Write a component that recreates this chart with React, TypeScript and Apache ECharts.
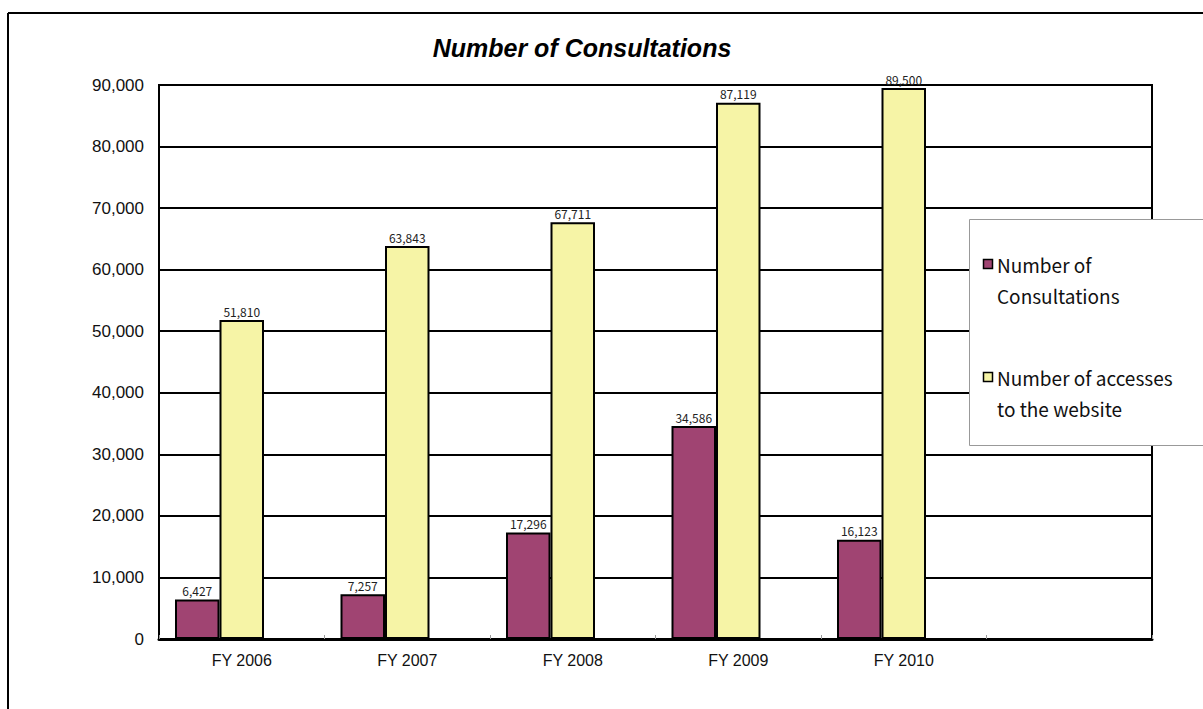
import React, { useEffect, useRef } from "react";
import * as echarts from "echarts";

const categories = ["FY 2006", "FY 2007", "FY 2008", "FY 2009", "FY 2010", ""];
const consultations = [6427, 7257, 17296, 34586, 16123];
const websiteAccesses = [51810, 63843, 67711, 87119, 89500];
const seriesNames = ["Number of Consultations", "Number of accesses to the website"];
const legendLines = [
  ["Number of", "Consultations"],
  ["Number of accesses", "to the website"],
];
const yTicks = { min: 0, max: 90000, interval: 10000 };

const PURPLE = "#A04472";
const YELLOW = "#F6F4A6";
const LABEL_FONT = "'Noto Sans CJK JP', 'Noto Sans', sans-serif";
const AXIS_FONT = "'Liberation Sans', Arial, sans-serif";

const fmt = (v: number) => v.toLocaleString("en-US");

export default function App() {
  const ref = useRef<HTMLDivElement>(null);

  useEffect(() => {
    if (!ref.current) return;
    const chart = echarts.init(ref.current, undefined, { renderer: "svg" });

    const barLabel = {
      show: true,
      position: "top" as const,
      distance: 3,
      color: "#222",
      fontSize: 12,
      fontFamily: LABEL_FONT,
      formatter: (p: any) => fmt(p.value),
    };

    const legendColors = [PURPLE, YELLOW];
    const legendGraphics: any[] = [
      {
        type: "rect",
        shape: { x: 969.5, y: 219.5, width: 260, height: 226 },
        style: { fill: "#fff", stroke: "#999", lineWidth: 1 },
        z: 100,
      },
    ];
    legendLines.forEach((lines, i) => {
      const top = 259 + i * 113;
      legendGraphics.push({
        type: "rect",
        shape: { x: 983.5, y: top + 0.5, width: 9, height: 9 },
        style: { fill: legendColors[i], stroke: "#000", lineWidth: 1.5 },
        z: 101,
      });
      lines.forEach((line, j) => {
        legendGraphics.push({
          type: "text",
          x: 997,
          y: top + 5 + j * 31,
          style: {
            text: line,
            fill: "#111",
            fontSize: 19,
            fontFamily: LABEL_FONT,
            textVerticalAlign: "middle",
            textAlign: "left",
          },
          z: 101,
        });
      });
    });

    chart.setOption({
      animation: false,
      backgroundColor: "#fff",
      title: {
        text: "Number of Consultations",
        left: 577,
        top: 30,
        textAlign: "center",
        textStyle: {
          fontFamily: AXIS_FONT,
          fontSize: 25,
          fontWeight: "bold",
          fontStyle: "italic",
          color: "#000",
        },
      },
      grid: {
        left: 159,
        right: 51,
        top: 85,
        bottom: 70,
        show: true,
        borderColor: "#000",
        borderWidth: 2,
      },
      xAxis: {
        type: "category",
        data: categories,
        axisLine: { lineStyle: { color: "#000", width: 3 } },
        axisTick: { show: true, inside: true, length: 4, lineStyle: { color: "#999", width: 1 } },
        axisLabel: {
          color: "#111",
          fontFamily: AXIS_FONT,
          fontSize: 16,
          margin: 13,
        },
      },
      yAxis: {
        type: "value",
        min: yTicks.min,
        max: yTicks.max,
        interval: yTicks.interval,
        axisLine: { show: true, lineStyle: { color: "#000", width: 2 } },
        axisTick: { show: false },
        splitLine: { lineStyle: { color: "#000", width: 2 } },
        axisLabel: {
          color: "#111",
          fontFamily: AXIS_FONT,
          fontSize: 17,
          margin: 15,
          formatter: (v: number) => fmt(v),
        },
      },
      series: [
        {
          name: seriesNames[0],
          type: "bar",
          data: consultations,
          barWidth: 44.5,
          barGap: "0%",
          itemStyle: { color: PURPLE, borderColor: "#000", borderWidth: 2 },
          label: barLabel,
        },
        {
          name: seriesNames[1],
          type: "bar",
          data: websiteAccesses,
          barWidth: 44.5,
          barGap: "0%",
          itemStyle: { color: YELLOW, borderColor: "#000", borderWidth: 2 },
          label: barLabel,
        },
        {
          // empty third slot keeps each bar pair left of the category centre
          name: "spacer",
          type: "bar",
          data: [],
          barWidth: 44.5,
          barGap: "0%",
        },
      ],
      graphic: [
        {
          type: "line",
          shape: { x1: 8, y1: 13, x2: 1203, y2: 13 },
          style: { stroke: "#000", lineWidth: 2 },
        },
        {
          type: "line",
          shape: { x1: 8, y1: 13, x2: 8, y2: 709 },
          style: { stroke: "#000", lineWidth: 2 },
        },
        ...legendGraphics,
      ],
    });

    return () => chart.dispose();
  }, []);

  return (
    <div
      ref={ref}
      style={{ position: "fixed", left: 0, top: 0, width: 1203, height: 709 }}
    />
  );
}
